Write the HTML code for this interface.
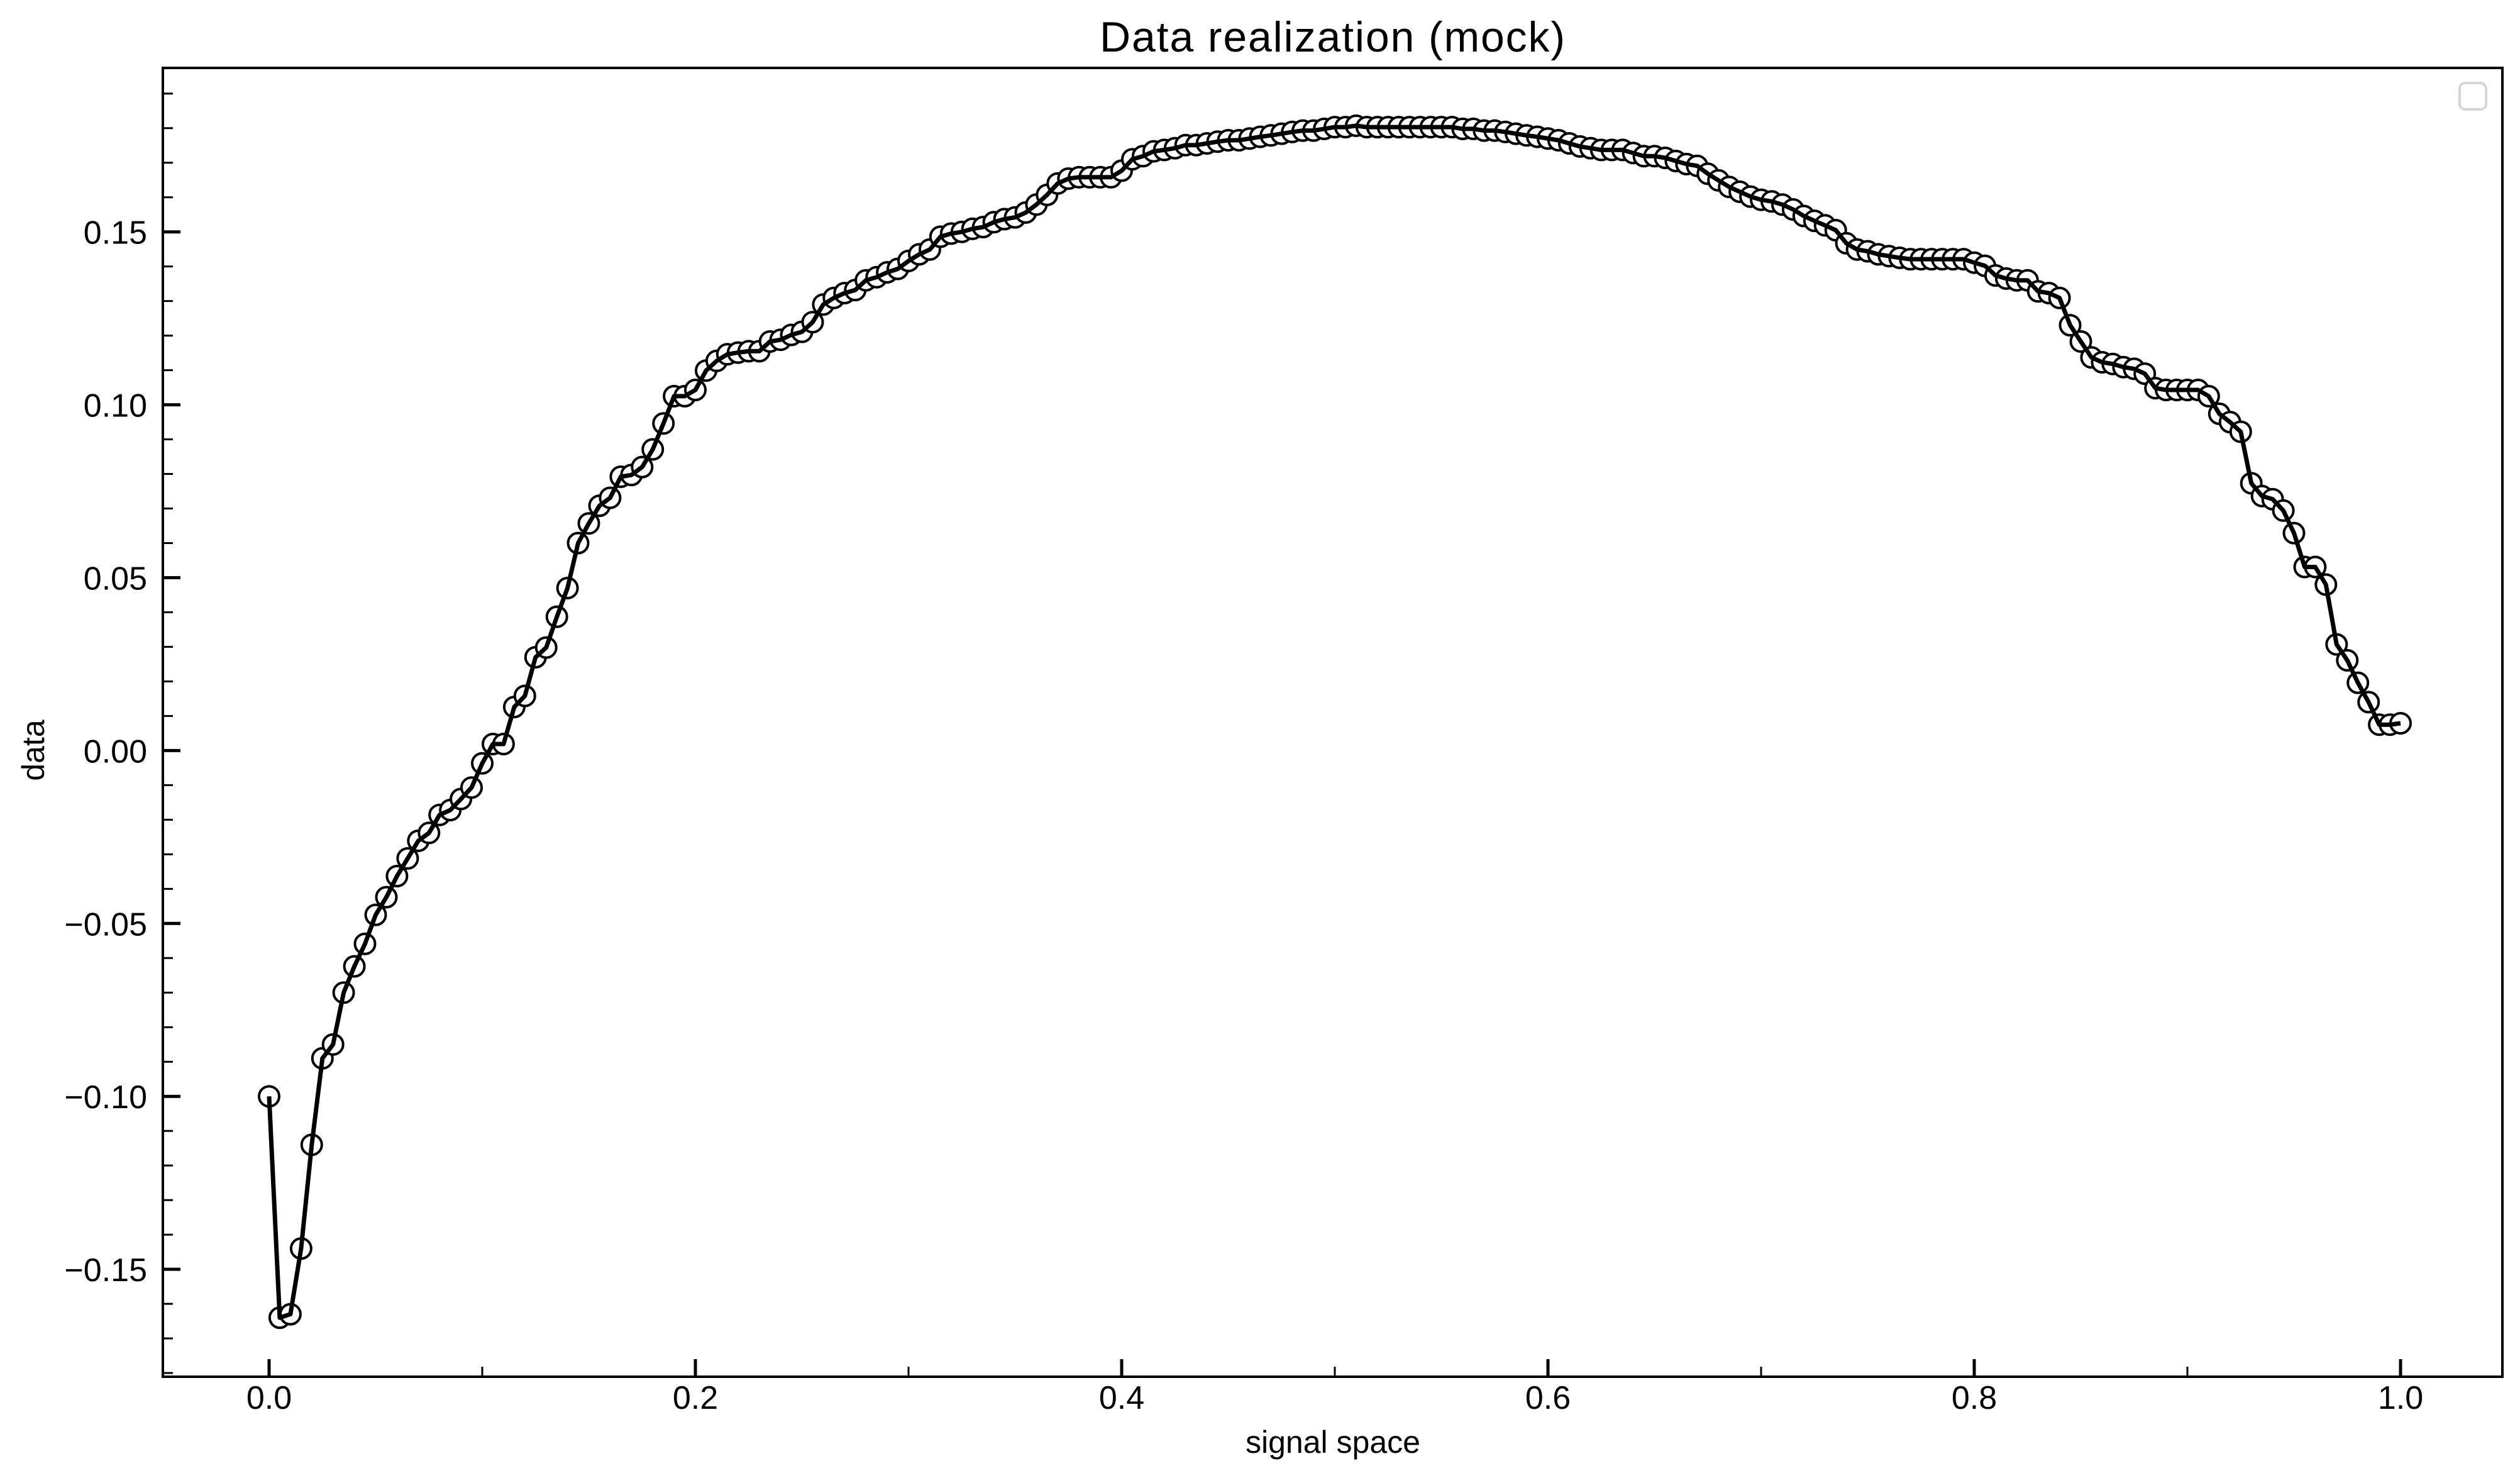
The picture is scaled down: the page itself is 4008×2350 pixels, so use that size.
<!DOCTYPE html>
<html><head><meta charset="utf-8"><style>
html,body{margin:0;padding:0;background:#fff;}
svg{display:block;}
text{font-family:"Liberation Sans",sans-serif;fill:#000;}
</style></head><body>
<svg id="chart" width="4008" height="2350" xmlns="http://www.w3.org/2000/svg">
<rect x="0" y="0" width="4008" height="2350" fill="#fff"/>
<text x="2119" y="82" font-size="68" text-anchor="middle" textLength="740">Data realization (mock)</text>
<text x="2120" y="2310" font-size="50" text-anchor="middle">signal space</text>
<text x="70" y="1193" font-size="50" text-anchor="middle" transform="rotate(-90 70 1193)">data</text>
<g id="ticks"></g>
<g id="series"></g>
<rect x="259" y="108" width="3721" height="2081" fill="none" stroke="#000" stroke-width="4"/>
<rect x="3912" y="132" width="42" height="42" rx="9" fill="#fff" stroke="#d6d6d6" stroke-width="4"/>
</svg>
<script>
const xStart = 0;
const xStep = 0.005;
const yValues = [
-0.100,-0.164,-0.163,-0.144,-0.114,-0.089,-0.085,-0.070,
-0.0624,-0.0559,-0.0475,-0.0424,-0.0363,-0.0312,-0.0261,-0.0238,-0.0186,-0.0172,-0.014,-0.0107,-0.0037,0.0019,0.0019,0.0126,0.0158,0.027,0.0298,0.0387,0.047,0.060,0.0657,0.0708,0.0731,0.0792,0.0797,0.082,0.0871,0.0946,0.1025,0.1025,0.1043,
0.1099,0.1127,0.1146,0.1151,0.1155,0.1155,0.1183,0.1188,0.1202,0.1211,
0.1239,0.129,0.1309,0.1323,0.1332,0.136,0.1369,0.1383,0.1393,0.1416,
0.1435,0.1449,0.1486,0.1495,0.15,0.1509,0.1514,0.1528,0.1537,0.1542,
0.1556,0.1579,0.1607,0.164,0.1654,0.1658,0.1658,0.1658,0.1658,0.1677,
0.171,0.1719,0.1733,0.1737,0.1742,0.1751,0.1751,0.1756,0.1761,0.1765,
0.1765,0.177,0.1775,0.1779,0.1784,0.1789,0.1793,0.1793,0.1798,0.1803,
0.1803,0.1807,0.1803,0.1803,0.1803,0.1803,0.1803,0.1803,0.1803,0.1803,
0.1803,0.1798,0.1798,0.1793,0.1793,0.1789,0.1784,0.1779,0.1775,0.177,
0.1765,0.1756,0.1747,0.1742,0.1737,0.1737,0.1737,0.1728,0.1719,0.1719,
0.1714,0.1705,0.1696,0.1691,0.1668,0.1649,0.163,0.1616,0.1602,0.1593,
0.1588,0.1579,0.1565,0.1546,0.1532,0.1519,0.1505,0.1467,0.1449,0.1444,
0.1435,0.143,0.1425,0.1421,0.1421,0.1421,0.1421,0.1421,0.1421,0.1411,
0.1402,0.1374,0.1365,0.136,0.136,0.1328,0.1323,0.1309,0.123,0.1183,
0.1137,0.1123,0.1118,0.1109,0.1104,0.109,0.1048,0.1043,0.1043,0.1043,
0.1043,0.1025,0.0974,0.095,0.0922,0.0773,0.0736,0.0727,0.0694,0.0629,
0.0531,0.0531,0.048,0.0307,0.0261,0.0196,0.014,0.0075,0.0075,0.0079
];
const xMajorTicks = [0.0,0.2,0.4,0.6,0.8,1.0];
const xTickLabels = ["0.0","0.2","0.4","0.6","0.8","1.0"];
const xMinorTicks = [-0.1,0.1,0.3,0.5,0.7,0.9];
const yMajorTicks = [-0.15,-0.10,-0.05,0.00,0.05,0.10,0.15];
const yTickLabels = ["\u22120.15","\u22120.10","\u22120.05","0.00","0.05","0.10","0.15"];

const NS = "http://www.w3.org/2000/svg";
const L = 259, R = 3980, T = 108, B = 2189;
function xScale(v){ return 428 + v * 3390; }
function yScale(v){ return 1193.4 - v * 5498; }
function mk(tag, attrs, parent){
  const e = document.createElementNS(NS, tag);
  for (const k in attrs) e.setAttribute(k, attrs[k]);
  parent.appendChild(e);
  return e;
}
const tg = document.getElementById('ticks');
xMajorTicks.forEach((v,i)=>{
  const x = xScale(v);
  const t = mk('line',{x1:x,x2:x,y1:B,y2:B-28,stroke:'#000','stroke-width':5},tg);
  
  
  const lb = mk('text',{x:x,y:2240,'font-size':52,'text-anchor':'middle'},tg);
  lb.textContent = xTickLabels[i];
  
  
});
xMinorTicks.forEach(v=>{
  const x = xScale(v);
  if (x < L || x > R) return;
  const t = mk('line',{x1:x,x2:x,y1:B,y2:B-16,stroke:'#000','stroke-width':3},tg);
  
  
});
yMajorTicks.forEach((v,i)=>{
  const y = yScale(v);
  const t = mk('line',{x1:L,x2:L+28,y1:y,y2:y,stroke:'#000','stroke-width':5},tg);
  
  
  const lb = mk('text',{x:234,y:y+19,'font-size':52,'text-anchor':'end'},tg);
  lb.textContent = yTickLabels[i];
  
  
});
for (let k = -18; k <= 19; k++){
  if (k % 5 === 0) continue;
  const y = yScale(k * 0.01);
  if (y < T + 4 || y > B - 4) continue;
  const t = mk('line',{x1:L,x2:L+16,y1:y,y2:y,stroke:'#000','stroke-width':3},tg);
  
  
}
const sg = document.getElementById('series');
const pts = yValues.map((v,i)=>[xScale(xStart + i*xStep), yScale(v)]);
pts.forEach(p=>{
  const c = mk('circle',{cx:p[0].toFixed(1),cy:p[1].toFixed(1),r:16,fill:'#fff',stroke:'#000','stroke-width':4},sg);
  
  
});
const line = mk('polyline',{points:pts.map(p=>p[0].toFixed(1)+','+p[1].toFixed(1)).join(' '),fill:'none',stroke:'#000','stroke-width':7,'stroke-linejoin':'round'},sg);


</script>
</body></html>
